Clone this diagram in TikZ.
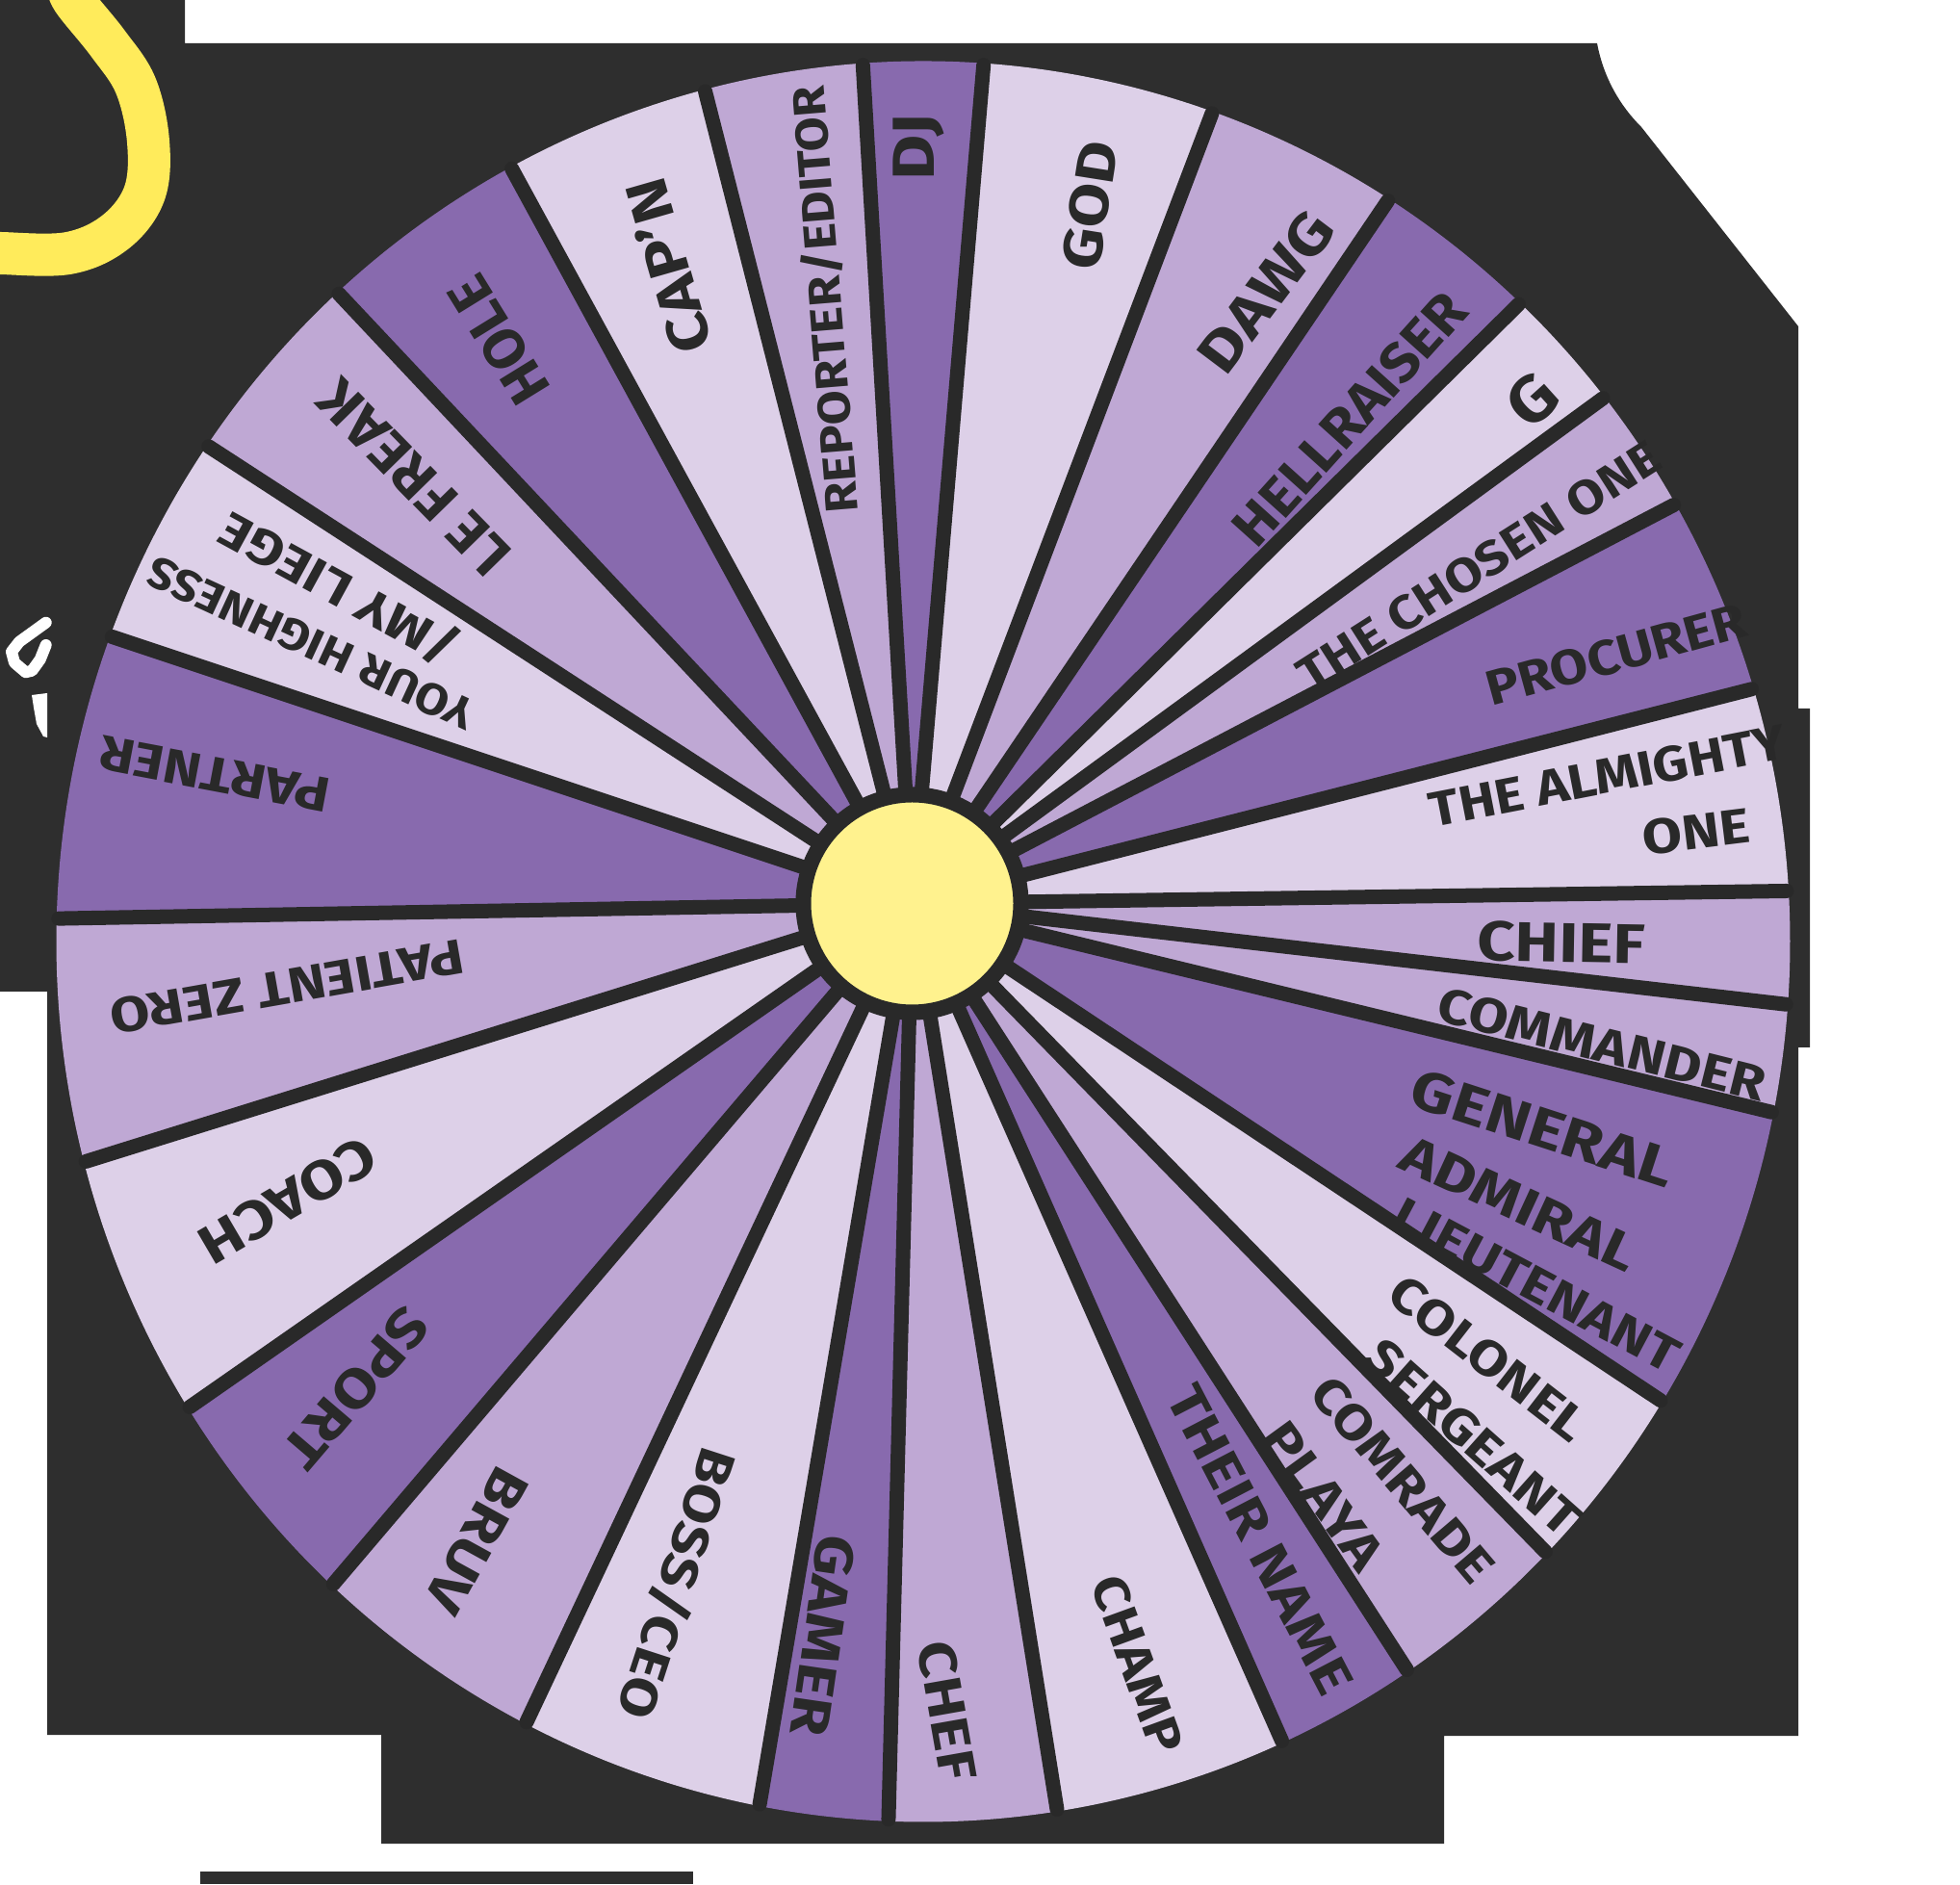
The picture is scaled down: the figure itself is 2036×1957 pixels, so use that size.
\documentclass[tikz,border=0pt]{standalone}
\usepackage{fontspec}
\setmainfont{Fira Sans}
\newcommand\labfont[1]{\fontsize{#1}{#1}\selectfont\bfseries}
\definecolor{bgdark}{HTML}{2E2E2E}
\definecolor{ink}{HTML}{292929}
\definecolor{pdark}{HTML}{886AAE}
\definecolor{pmid}{HTML}{BFA8D4}
\definecolor{plite}{HTML}{DDD0E8}
\definecolor{hubyel}{HTML}{FFF28E}
\definecolor{arcyel}{HTML}{FFEB5B}
\begin{document}
\begin{tikzpicture}[x=0.01cm,y=0.01cm,
  spoke/.style={draw=ink,line width=0.15cm,line cap=round},
  lbl/.style={inner sep=0pt,text=ink,anchor=center}]
\useasboundingbox (0,0) rectangle (2036,1957);
\fill[white] (0,0) rectangle (2036,1957);
% dark backdrop
\fill[bgdark] (0,1957) -- (192,1957) -- (192,1912) -- (1659,1912)
  .. controls (1665,1880) and (1680,1850) .. (1705,1825) -- (1868,1618)
  -- (1868,1221) -- (1880,1221) -- (1880,869) -- (1868,869) -- (1868,154)
  -- (1500,154) -- (1500,42) -- (396,42) -- (396,155) -- (49,155) -- (49,927)
  -- (0,927) -- cycle;
\fill[bgdark] (208,0) rectangle (720,13);
% yellow arc
\draw[arcyel,line width=0.44cm] plot[smooth,tension=0.6] coordinates
  {(70,1975) (76,1957) (112,1912) (141,1868) (154,1810) (150,1756) (120,1716) (71,1694) (0,1694) (-15,1695)};
% white fragments
\draw[white,line width=0.12cm,line join=round,line cap=round]
  (47.7,1310.3) -- (20,1290.3) -- (12,1280) -- (15,1268.7) -- (26.7,1258.7) -- (33.3,1260.3) -- (41.7,1272) -- (47.7,1287);
\fill[white] (33,1235) -- (49,1237) -- (49,1191) -- (45,1192) -- (38,1205) -- (35,1222) -- cycle;
% wheel
\coordinate (C) at (959,979);
\coordinate (H) at (947.5,1018.5);
\foreach \a/\b/\c in {178.5/194.5/pmid, -165.5/-148/plite, -148/-133/pdark, -133/-117.3/pmid,
  -117.3/-100.9/plite, -100.9/-92.3/pdark, -92.3/-81.1/pmid, -81.1/-65.5/plite, -65.5/-56/pdark,
  -56/-44/pmid, -44/-31.5/plite, -31.5/-11.2/pdark, -11.2/-4.1/pmid, -4.1/3.3/pmid, 3.3/16.7/plite,
  16.7/29.8/pdark, 29.8/38.2/pmid, 38.2/46.5/plite, 46.5/57.5/pdark, 57.5/70.5/pmid, 70.5/86/plite,
  86/94/pdark, 94/104.6/pmid, 104.6/118.4/plite, 118.4/132.5/pdark, 132.5/145.7/pmid,
  145.7/159.7/plite, 159.7/178.5/pdark}
  \fill[\c] (H) -- ([shift={(C)}]\a:9cm and 9.14cm) arc[start angle=\a,end angle=\b,x radius=9cm,y radius=9.14cm] -- cycle;
\foreach \a in {-165.5,-148,-133,-117.3,-100.9,-92.3,-81.1,-65.5,-56,-44,-31.5,-11.2,-4.1,3.3,16.7,
  29.8,38.2,46.5,57.5,70.5,86,94,104.6,118.4,132.5,145.7,159.7,178.5}
  \draw[spoke] (H) -- ([shift={(C)}]\a:8.98cm and 9.12cm);
% hub
\fill[ink] (H) circle[radius=1.21cm];
\node[circle,fill=hubyel,draw=ink,line width=0.6pt,minimum size=2.12cm,inner sep=0pt] (hub) at (H) {};
% labels
\node[lbl,font=\labfont{17.5},rotate=90,xscale=1.18] (tdj) at (954,1804) {DJ};
\node[lbl,font=\labfont{16.2},rotate=81,xscale=1.18] (tgod) at (1132,1744) {GOD};
\node[lbl,font=\labfont{17},rotate=53,xscale=1.18] (tdawg) at (1315,1654) {DAWG};
\node[lbl,font=\labfont{16.2},rotate=48,xscale=1.07] (thell) at (1402,1522) {HELLRAISER};
\node[lbl,font=\labfont{19},rotate=42,xscale=1.1] (tg) at (1592,1542) {G};
\node[lbl,font=\labfont{14},rotate=32.5,xscale=1.14] (tchosen) at (1536,1369) {THE CHOSEN ONE};
\node[lbl,font=\labfont{14.5},rotate=15.4,xscale=1.12] (tproc) at (1679,1277) {PROCURER};
\node[lbl,font=\labfont{14.5},rotate=11,xscale=1.12] (talm) at (1670,1151) {THE ALMIGHTY};
\node[lbl,font=\labfont{14.5},rotate=7,xscale=1.17] (tone) at (1762,1093) {ONE};
\node[lbl,font=\labfont{16.5},rotate=-1,xscale=1.18] (tchief) at (1622,978) {CHIEF};
\node[lbl,font=\labfont{14.5},rotate=-14,xscale=1.17] (tcomm) at (1664,872) {COMMANDER};
\node[lbl,font=\labfont{16.5},rotate=-18,xscale=1.2] (tgen) at (1603,785) {GENERAL};
\node[lbl,font=\labfont{15.5},rotate=-24.7,xscale=1.2] (tadm) at (1578,707) {ADMIRAL};
\node[lbl,font=\labfont{14.5},rotate=-28,xscale=1.17] (tlieu) at (1596,622) {LIEUTENANT};
\node[lbl,font=\labfont{14.5},rotate=-37.8,xscale=1.17] (tcol) at (1546,546) {COLONEL};
\node[lbl,font=\labfont{14.5},rotate=-41.7,xscale=1.17] (tserg) at (1530,464) {SERGEANT};
\node[lbl,font=\labfont{14.5},rotate=-49.6,xscale=1.17] (tcomr) at (1457,420) {COMRADE};
\node[lbl,font=\labfont{15},rotate=-54,xscale=1.2] (tplaya) at (1375,403) {PLAYA};
\node[lbl,font=\labfont{15.5},rotate=-62.5,xscale=1.19] (ttheir) at (1309,358) {THEIR NAME};
\node[lbl,font=\labfont{14.5},rotate=-70,xscale=1.17] (tchamp) at (1182,228) {CHAMP};
\node[lbl,font=\labfont{15.5},rotate=-80,xscale=1.19] (tchef) at (984,180) {CHEF};
\node[lbl,font=\labfont{16},rotate=-98.3,xscale=1.18] (tgamer) at (855,258) {GAMER};
\node[lbl,font=\labfont{15},rotate=-108,xscale=1.17] (tboss) at (703,312) {BOSS/CEO};
\node[lbl,font=\labfont{16},rotate=-118.8,xscale=1.18] (tbruv) at (495,357) {BRUV};
\node[lbl,font=\labfont{16},rotate=-130.5,xscale=1.18] (tsport) at (370,515) {SPORT};
\node[lbl,font=\labfont{16},rotate=-149.7,xscale=1.18] (tcoach) at (299,710) {COACH};
\node[lbl,font=\labfont{14.5},rotate=-170,xscale=1.17] (tpat) at (298,932) {PATIENT ZERO};
\node[lbl,font=\labfont{14.5},rotate=169.3,xscale=1.17] (tpart) at (223,1153) {PARTNER};
\node[lbl,font=\labfont{13},rotate=155.2,xscale=1.1] (thigh) at (323,1289) {YOUR HIGHNESS};
\node[lbl,font=\labfont{14.5},rotate=151.4,xscale=1.17] (tliege) at (352,1345) {/MY LIEGE};
\node[lbl,font=\labfont{17},rotate=134.4,xscale=1.04] (tfreak) at (430,1461) {LE FREAK};
\node[lbl,font=\labfont{17},rotate=121.7,xscale=1.0] (thole) at (518,1604) {HOLE};
\node[lbl,font=\labfont{17},rotate=106,xscale=1.16] (tcapn) at (693,1680) {CAP'N};
\node[lbl,font=\labfont{13.5},rotate=94.7,xscale=1.1] (trep) at (857,1646) {REPORTER/EDITOR};
\end{tikzpicture}
\end{document}
